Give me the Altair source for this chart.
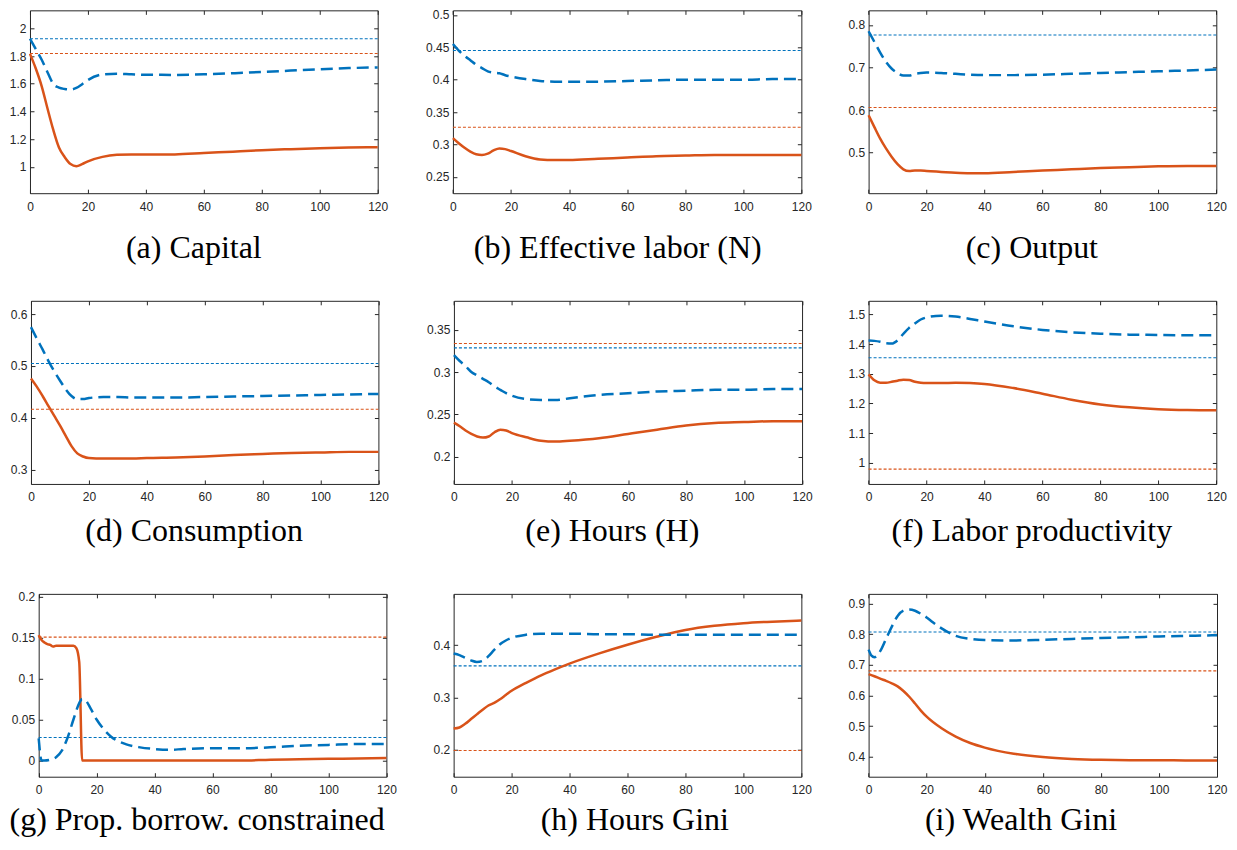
import altair as alt
import pandas as pd

ORANGE = "#D95319"
BLUE = "#0072BD"
INK = "#262626"

X_TICKS = [0, 20, 40, 60, 80, 100, 120]
T = [0, 2, 4, 6, 8, 10, 12, 14, 16, 18, 20, 25, 30, 35, 40, 50, 60, 70, 80, 90, 100, 110, 120]

# (a) Capital
A_SOLID = [1.816, 1.71, 1.585, 1.425, 1.27, 1.14, 1.07, 1.02, 1.005, 1.02, 1.04, 1.072, 1.087, 1.09, 1.09, 1.09, 1.10, 1.11, 1.12, 1.128, 1.135, 1.14, 1.142]
A_DASH = [1.925, 1.85, 1.775, 1.685, 1.60, 1.572, 1.562, 1.558, 1.57, 1.597, 1.627, 1.667, 1.672, 1.668, 1.665, 1.664, 1.668, 1.676, 1.685, 1.695, 1.705, 1.713, 1.718]
# (b) Effective labor
B_SOLID = [0.31, 0.302, 0.295, 0.289, 0.285, 0.284, 0.286, 0.291, 0.294, 0.293, 0.29, 0.282, 0.277, 0.276, 0.276, 0.278, 0.28, 0.282, 0.283, 0.284, 0.284, 0.284, 0.284]
B_DASH = [0.455, 0.445, 0.437, 0.43, 0.423, 0.418, 0.413, 0.411, 0.41, 0.407, 0.405, 0.401, 0.398, 0.397, 0.397, 0.397, 0.398, 0.399, 0.4, 0.4, 0.4, 0.401, 0.401]
# (c) Output
C_SOLID = [0.588, 0.56, 0.533, 0.51, 0.49, 0.473, 0.461, 0.457, 0.458, 0.458, 0.457, 0.455, 0.453, 0.452, 0.452, 0.455, 0.458, 0.461, 0.464, 0.466, 0.468, 0.469, 0.469]
C_DASH = [0.785, 0.76, 0.735, 0.713, 0.697, 0.687, 0.681, 0.681, 0.685, 0.687, 0.688, 0.687, 0.685, 0.683, 0.682, 0.682, 0.683, 0.685, 0.687, 0.689, 0.691, 0.693, 0.695]
# (d) Consumption
D_SOLID = [0.476, 0.46, 0.442, 0.423, 0.404, 0.385, 0.365, 0.345, 0.331, 0.325, 0.322, 0.321, 0.321, 0.321, 0.322, 0.323, 0.325, 0.328, 0.33, 0.332, 0.333, 0.334, 0.334]
D_DASH = [0.575, 0.553, 0.532, 0.51, 0.49, 0.472, 0.455, 0.442, 0.436, 0.436, 0.438, 0.44, 0.44, 0.439, 0.439, 0.439, 0.44, 0.441, 0.442, 0.443, 0.444, 0.445, 0.446]
# (e) Hours
E_SOLID = [0.2403, 0.236, 0.231, 0.227, 0.224, 0.2227, 0.224, 0.229, 0.232, 0.231, 0.228, 0.223, 0.219, 0.218, 0.219, 0.222, 0.227, 0.232, 0.237, 0.24, 0.241, 0.242, 0.242]
E_DASH = [0.32, 0.313, 0.307, 0.30, 0.296, 0.292, 0.288, 0.283, 0.279, 0.275, 0.272, 0.268, 0.267, 0.267, 0.269, 0.273, 0.275, 0.277, 0.278, 0.279, 0.279, 0.28, 0.28]
# (f) Labor productivity
F_SOLID = [1.298, 1.278, 1.27, 1.27, 1.273, 1.277, 1.28, 1.279, 1.273, 1.27, 1.269, 1.269, 1.27, 1.269, 1.266, 1.252, 1.233, 1.213, 1.197, 1.187, 1.181, 1.178, 1.177]
F_DASH = [1.412, 1.411, 1.408, 1.403, 1.402, 1.413, 1.435, 1.455, 1.47, 1.483, 1.49, 1.496, 1.493, 1.485, 1.476, 1.46, 1.448, 1.44, 1.435, 1.432, 1.431, 1.43, 1.43]
# (g) Prop. borrow. constrained
G_T_SOLID = [0, 1, 2, 3, 4, 5, 6, 8, 10, 12, 13, 14, 15, 20, 30, 40, 50, 60, 70, 80, 90, 100, 110, 120]
G_SOLID = [0.153, 0.147, 0.144, 0.142, 0.141, 0.139, 0.140, 0.140, 0.140, 0.140, 0.137, 0.120, 0.0, 0.0, 0.0, 0.0, 0.0, 0.0, 0.0, 0.001, 0.0015, 0.002, 0.0025, 0.003]
G_T_DASH = [0, 1, 2, 4, 6, 8, 10, 12, 14, 15, 16, 18, 20, 22, 25, 30, 35, 40, 45, 50, 60, 70, 80, 90, 100, 110, 120]
G_DASH = [0.027, 0.0, 0.0, 0.001, 0.004, 0.012, 0.028, 0.05, 0.07, 0.075, 0.074, 0.063, 0.05, 0.04, 0.029, 0.02, 0.016, 0.014, 0.013, 0.014, 0.015, 0.015, 0.016, 0.018, 0.019, 0.02, 0.02]
# (h) Hours Gini
H_SOLID = [0.241, 0.243, 0.25, 0.259, 0.268, 0.277, 0.285, 0.29, 0.297, 0.305, 0.313, 0.328, 0.342, 0.354, 0.365, 0.384, 0.401, 0.416, 0.429, 0.437, 0.442, 0.445, 0.447]
H_DASH = [0.384, 0.381, 0.376, 0.371, 0.368, 0.37, 0.379, 0.391, 0.402, 0.409, 0.414, 0.42, 0.422, 0.422, 0.422, 0.421, 0.421, 0.42, 0.42, 0.42, 0.42, 0.42, 0.42]
# (i) Wealth Gini
I_SOLID = [0.67, 0.663, 0.655, 0.648, 0.64, 0.63, 0.615, 0.596, 0.574, 0.551, 0.531, 0.494, 0.466, 0.445, 0.43, 0.41, 0.399, 0.393, 0.39, 0.389, 0.389, 0.388, 0.388]
I_T_DASH = [0, 1, 2, 4, 6, 8, 10, 12, 14, 16, 18, 20, 22, 25, 30, 35, 40, 50, 60, 70, 80, 90, 100, 110, 120]
I_DASH = [0.75, 0.73, 0.725, 0.745, 0.785, 0.825, 0.86, 0.877, 0.881, 0.877, 0.867, 0.855, 0.84, 0.82, 0.795, 0.785, 0.781, 0.78, 0.782, 0.785, 0.788, 0.79, 0.793, 0.795, 0.797]

CAPTIONS = ["(a) Capital", "(b) Effective labor (N)", "(c) Output",
            "(d) Consumption", "(e) Hours (H)", "(f) Labor productivity",
            "(g) Prop. borrow. constrained", "(h) Hours Gini", "(i) Wealth Gini"]
SS_ORANGE = [1.818, 0.3266, 0.606, 0.4165, 0.3336, 0.979, 0.1505, 0.199, 0.6804]
SS_BLUE = [1.925, 0.445, 0.776, 0.5047, 0.3285, 1.354, 0.028, 0.3606, 0.8076]
Y_DOMAINS = [[0.81, 2.13], [0.225, 0.507], [0.405, 0.834],
             [0.272, 0.626], [0.168, 0.384], [0.929, 1.546],
             [-0.0198, 0.2033], [0.149, 0.498], [0.335, 0.932]]
Y_TICKS = [[1, 1.2, 1.4, 1.6, 1.8, 2],
           [0.25, 0.3, 0.35, 0.4, 0.45, 0.5],
           [0.5, 0.6, 0.7, 0.8],
           [0.3, 0.4, 0.5, 0.6],
           [0.2, 0.25, 0.3, 0.35],
           [1, 1.1, 1.2, 1.3, 1.4, 1.5],
           [0, 0.05, 0.1, 0.15, 0.2],
           [0.2, 0.3, 0.4],
           [0.4, 0.5, 0.6, 0.7, 0.8, 0.9]]

SERIES = [
    (T, A_SOLID, T, A_DASH), (T, B_SOLID, T, B_DASH), (T, C_SOLID, T, C_DASH),
    (T, D_SOLID, T, D_DASH), (T, E_SOLID, T, E_DASH), (T, F_SOLID, T, F_DASH),
    (G_T_SOLID, G_SOLID, G_T_DASH, G_DASH), (T, H_SOLID, T, H_DASH), (T, I_SOLID, I_T_DASH, I_DASH),
]

# ---- layout (page pixels) ----
M = 8
VW, VH = 1237 - 2 * M, 850 - 2 * M
ROW_TOP = [10, 300.7, 594]
ROW_BOTTOM = [193, 484, 777]
PANEL_LEFT = [29, 452.3, 868.3, 30, 453.3, 868.3, 37.7, 453, 868.3]
PANEL_RIGHT = [377, 801, 1216.3, 377.7, 801.7, 1216.3, 385.7, 801, 1217]
CAP_BASE = [257, 541, 830]
CAP_CENTER = [192.5, 616.7, 1031.2, 192.8, 611.3, 1031.2, 195.8, 633.8, 1020.3]
TK = 4


def panel(k):
    r = k // 3
    x0, x1 = PANEL_LEFT[k] - M, PANEL_RIGHT[k] - M
    y0, y1 = ROW_TOP[r] - M, ROW_BOTTOM[r] - M
    ts, s, td, d = SERIES[k]
    xs = alt.Scale(domain=[0, 120], range=[x0, x1], nice=False, zero=False)
    ys = alt.Scale(domain=Y_DOMAINS[k], range=[y1, y0], nice=False, zero=False)

    common = dict(grid=False, title=None, labelOverlap=False)
    # frame (domain lines only)
    fr_bottom = alt.Axis(orient="bottom", offset=y1 - VH, domain=True, ticks=False, labels=False, **common)
    fr_left = alt.Axis(orient="left", offset=-x0, domain=True, ticks=False, labels=False, **common)
    fr_top = alt.Axis(orient="top", offset=-y0, domain=True, ticks=False, labels=False, **common)
    fr_right = alt.Axis(orient="right", offset=x1 - VW, domain=True, ticks=False, labels=False, **common)
    # ticks (inward) and labels
    bottom = alt.Axis(orient="bottom", values=X_TICKS, format="d", offset=y1 - TK - VH, tickSize=TK,
                      labelPadding=8, labelFlush=False, labelOverlap=False, domain=False, grid=False,
                      title=CAPTIONS[k], titleFont="Liberation Serif", titleFontSize=32,
                      titleFontWeight="normal", titleColor="black", titleX=CAP_CENTER[k] - M,
                      titleY=CAP_BASE[r] - ROW_BOTTOM[r] + TK, titleAlign="center",
                      titleBaseline="alphabetic")
    left = alt.Axis(orient="left", values=Y_TICKS[k], format="~g", offset=-(x0 + TK), tickSize=TK,
                    labelPadding=4, domain=False, **common)
    top = alt.Axis(orient="top", values=X_TICKS, offset=-(y0 + TK), tickSize=TK, labels=False,
                   domain=False, grid=False, title=None)
    right = alt.Axis(orient="right", values=Y_TICKS[k], offset=x1 - TK - VW, tickSize=TK, labels=False,
                     domain=False, grid=False, title=None)

    def rule(val, color, ax_x, ax_y):
        df = pd.DataFrame({"v": [val], "a": [0], "b": [120]})
        return alt.Chart(df).mark_rule(color=color, strokeWidth=1.1, strokeDash=[3, 2]).encode(
            x=alt.X("a:Q", scale=xs, axis=ax_x),
            x2="b:Q",
            y=alt.Y("v:Q", scale=ys, axis=ax_y),
        )

    r_or = rule(SS_ORANGE[k], ORANGE, fr_bottom, fr_left)
    r_bl = rule(SS_BLUE[k], BLUE, fr_top, fr_right)
    solid = alt.Chart(pd.DataFrame({"t": ts, "v": s})).mark_line(
        color=ORANGE, strokeWidth=2.5, interpolate="monotone"
    ).encode(
        x=alt.X("t:Q", scale=xs, axis=bottom),
        y=alt.Y("v:Q", scale=ys, axis=left),
    )
    dash = alt.Chart(pd.DataFrame({"t": td, "v": d})).mark_line(
        color=BLUE, strokeWidth=2.5, strokeDash=[12, 6], interpolate="monotone"
    ).encode(
        x=alt.X("t:Q", scale=xs, axis=top),
        y=alt.Y("v:Q", scale=ys, axis=right),
    )
    return [r_or, r_bl, solid, dash]


layers = []
for k in range(9):
    layers.extend(panel(k))

chart = alt.layer(*layers).resolve_scale(
    x="independent", y="independent"
).resolve_axis(
    x="independent", y="independent"
).properties(
    width=VW, height=VH, padding=0, background="white",
).configure_view(
    stroke=None
).configure_axis(
    labelFont="Liberation Sans", labelFontSize=12, labelColor=INK,
    tickColor=INK, tickWidth=1, domainColor=INK, domainWidth=1, grid=False,
)

chart.save("out.html", embed_options={"renderer": "svg", "actions": False})
